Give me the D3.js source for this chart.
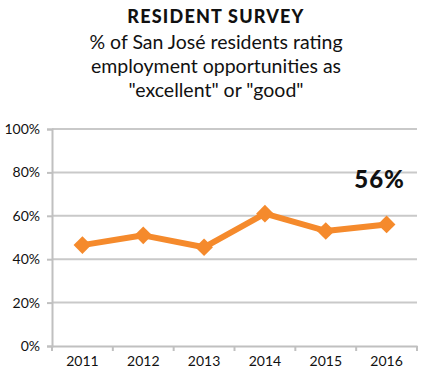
<!DOCTYPE html>
<html>
<head>
<meta charset="utf-8">
<script src="https://cdn.jsdelivr.net/npm/d3@7"></script>
<style>
	body { margin: 0; background: #fff; }
	svg text { font-family: "Lato", "Open Sans", sans-serif; fill: #111; }
</style>
</head>
<body>
<div id="chart"></div>
<script>
var years = ["2011", "2012", "2013", "2014", "2015", "2016"];
var ratings = [46.5, 51, 45.5, 61, 53, 56];
var yTicks = [0, 20, 40, 60, 80, 100];
var titleLines = ["% of San José residents rating", "employment opportunities as", "\"excellent\" or \"good\""];

var margin = {top: 129, right: 6, bottom: 30, left: 52},
	width = 423 - margin.left - margin.right,
	height = 346 - margin.top;

var svg = d3.select("#chart")
	.append("svg")
	.attr("width", 423)
	.attr("height", 376)
;

var xScale = d3.scaleBand()
	.domain(years)
	.range([0, width])
;

var yScale = d3.scaleLinear()
	.domain([0, 100])
	.range([height, 0])
;

var plot = svg
	.append("g")
	.attr("transform", "translate(" + margin.left + "," + margin.top + ")")
;

// gridlines
plot.selectAll("line.grid")
	.data(yTicks.filter(function(d) { return d > 0; }))
	.enter()
	.append("line")
	.attr("class", "grid")
	.attr("x1", 0)
	.attr("x2", width)
	.attr("y1", function(d) { return yScale(d); })
	.attr("y2", function(d) { return yScale(d); })
	.attr("stroke", "#c9c9c9")
	.attr("stroke-width", 2)
;

// y axis
var yAxis = plot.append("g")
	.call(d3.axisLeft(yScale).tickValues(yTicks).tickSize(5).tickPadding(7)
		.tickFormat(function(d) { return d + "%"; }));
yAxis.select(".domain").attr("stroke", "#c0c0c0").attr("stroke-width", 2);
yAxis.selectAll(".tick line").attr("stroke", "#c0c0c0").attr("stroke-width", 2);
yAxis.selectAll("text").attr("font-size", "14px").attr("fill", "#111");

// x axis with ticks between categories
var xAxis = plot.append("g")
	.attr("transform", "translate(0," + height + ")")
	.call(d3.axisBottom(xScale).tickSize(0).tickPadding(10));
xAxis.select(".domain").attr("stroke", "#c0c0c0").attr("stroke-width", 2);
xAxis.selectAll("text").attr("font-size", "14px").attr("fill", "#111");

var bounds = years.map(function(d) { return xScale(d); }).concat([width]);
xAxis.selectAll("line.sep")
	.data(bounds)
	.enter()
	.append("line")
	.attr("class", "sep")
	.attr("x1", function(d) { return d; })
	.attr("x2", function(d) { return d; })
	.attr("y1", 0)
	.attr("y2", 5)
	.attr("stroke", "#c0c0c0")
	.attr("stroke-width", 2)
;

var line = d3.line()
	.x(function(d, i) { return xScale(years[i]) + xScale.bandwidth() / 2; })
	.y(function(d) { return yScale(d); })
;

plot.append("path")
	.datum(ratings)
	.attr("d", line)
	.attr("fill", "none")
	.attr("stroke", "#f58a2c")
	.attr("stroke-width", 6)
	.attr("stroke-linejoin", "round")
;

plot.selectAll("path.marker")
	.data(ratings)
	.enter()
	.append("path")
	.attr("class", "marker")
	.attr("d", d3.symbol().type(d3.symbolDiamond2).size(200))
	.attr("transform", function(d, i) {
		return "translate(" + (xScale(years[i]) + xScale.bandwidth() / 2) + "," + yScale(d) + ")";
	})
	.attr("fill", "#f58a2c")
;

// latest value label
plot.append("text")
	.attr("x", xScale(years[5]) + xScale.bandwidth() / 2 - 7)
	.attr("y", yScale(80) + 16)
	.attr("text-anchor", "middle")
	.attr("font-size", "24px")
	.attr("font-weight", "900")
	.attr("letter-spacing", "1px")
	.text(Math.round(ratings[5]) + "%")
;

/*
	Titles
*/
svg.append("text")
	.attr("x", 216)
	.attr("y", 23)
	.attr("text-anchor", "middle")
	.attr("font-size", "18px")
	.attr("font-weight", "900")
	.attr("letter-spacing", "1.2px")
	.text("RESIDENT SURVEY")
;

svg.selectAll("text.sub")
	.data(titleLines)
	.enter()
	.append("text")
	.attr("class", "sub")
	.attr("x", 216)
	.attr("y", function(d, i) { return 49 + i * 24; })
	.attr("text-anchor", "middle")
	.attr("font-size", "19.5px")
	.text(function(d) { return d; })
;
</script>
</body>
</html>
